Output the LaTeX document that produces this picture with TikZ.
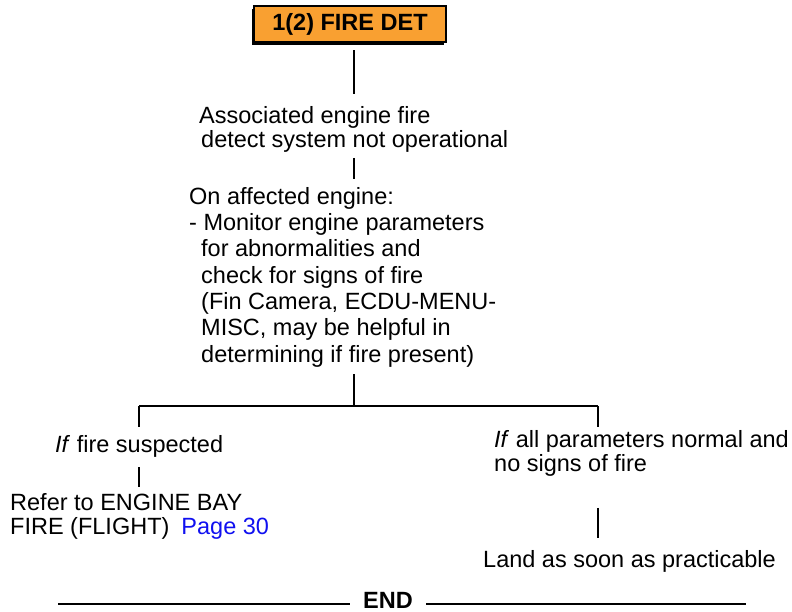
\documentclass[tikz,border=0pt]{standalone}
\usepackage{fontspec}
\setmainfont{Liberation Sans}
\usepackage{tikz}
\usetikzlibrary{positioning,calc,shadows}
\usepackage{xcolor}
\definecolor{cautionorange}{HTML}{F9A031}
\definecolor{pagelink}{HTML}{1010F0}
\tikzset{
  titlebox/.style={draw=black,fill=cautionorange,line width=2.5pt,minimum width=192pt,minimum height=36pt,inner sep=0pt,
    drop shadow={fill=black,opacity=1,shadow xshift=-2.5pt,shadow yshift=-3pt},
    font=\bfseries\fontsize{23.5}{25}\selectfont},
  steptext/.style={align=left,inner sep=0pt,anchor=north west},
  link/.style={draw,line width=1.5pt},
}

\begin{document}
\begin{tikzpicture}[x=1pt,y=-1pt,font=\fontsize{23.5}{24.5}\selectfont]
\useasboundingbox (0,0) rectangle (792,612);

% procedure steps
\node[titlebox] (title) at (350,24) {1(2) FIRE DET};
\node[steptext] (assoc) at (199,106) {Associated engine fire\\\hspace*{2pt}detect system not operational};
\node[steptext,font=\fontsize{23.5}{26.3}\selectfont] (monitor) at (189,187) {On affected engine:\\- Monitor engine parameters\\\hspace*{12pt}for abnormalities and\\\hspace*{12pt}check for signs of fire\\\hspace*{12pt}(Fin Camera, ECDU-MENU-\\\hspace*{12pt}MISC, may be helpful in\\\hspace*{12pt}determining if fire present)};
\node[steptext] (suspect) at (55,435) {\textit{If} fire suspected};
\node[steptext] (refer) at (10,493) {Refer to ENGINE BAY\\FIRE (FLIGHT)\hspace{12pt}{\color{pagelink}Page 30}};
\node[steptext] (normal) at (494,430) {\textit{If} all parameters normal and\\no signs of fire};
\node[steptext] (land) at (483,550) {Land as soon as practicable};
\node[inner sep=0pt,font=\bfseries\fontsize{23.5}{25}\selectfont] (end) at (388,600) {END};

% branch points and rule ends
\coordinate (fork) at (354,406);
\coordinate (forkl) at (139,406);
\coordinate (forkr) at (598,406);
\coordinate (endl) at (58,604);
\coordinate (endr) at (746,604);

\draw[link,shorten <=7pt,shorten >=12pt] (fork |- title.south) -- (fork |- assoc.north);
\draw[link,shorten <=5pt,shorten >=8pt] (fork |- assoc.south) -- (fork |- monitor.north);
\draw[link,shorten <=7pt] (fork |- monitor.south) -- (fork);
\draw[link] (forkl) -- (forkr);
\draw[link,shorten >=8pt] (forkl) -- (forkl |- suspect.north);
\draw[link,shorten <=10pt,shorten >=6pt] (forkl |- suspect.south) -- (forkl |- refer.north);
\draw[link,shorten >=3pt] (forkr) -- (forkr |- normal.north);
\draw[link,shorten <=31pt,shorten >=12pt] (forkr |- normal.south) -- (forkr |- land.north);
\draw[link,line width=2.7pt,shorten >=13pt] (endl) -- (endl -| end.west);
\draw[link,line width=2.7pt,shorten <=13pt] (endr -| end.east) -- (endr);

\end{tikzpicture}
\end{document}
